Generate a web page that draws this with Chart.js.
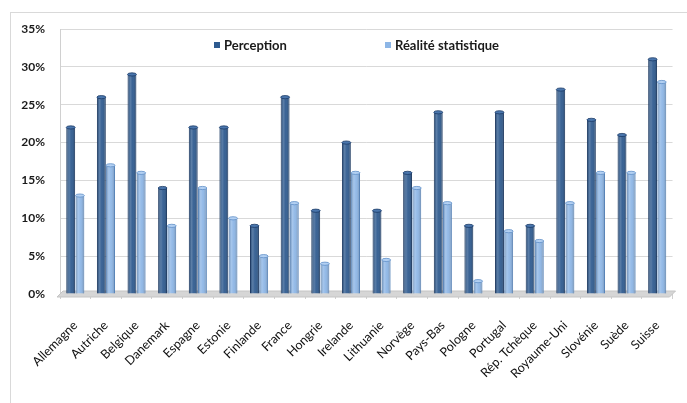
<!DOCTYPE html>
<html>
<head>
<meta charset="utf-8">
<script src="https://cdn.jsdelivr.net/npm/chart.js@4.4.1/dist/chart.umd.min.js"></script>
<style>
  html, body { margin: 0; padding: 0; background: #fff; overflow: hidden; }
  #wrap { position: relative; width: 687px; height: 403px; }
  #frame { position: absolute; left: 10px; top: 12px; width: 720px; height: 420px;
           border-left: 1px solid #d9d9d9; border-top: 1px solid #d9d9d9; }
  canvas { position: absolute; left: 0; top: 0; }
</style>
</head>
<body>
<div id="wrap">
  <div id="frame"></div>
  <canvas id="c" width="687" height="403"></canvas>
</div>
<script>
// Countries on the category axis
const countries = ['Allemagne', 'Autriche', 'Belgique', 'Danemark', 'Espagne', 'Estonie',
  'Finlande', 'France', 'Hongrie', 'Irelande', 'Lithuanie', 'Norvège', 'Pays-Bas',
  'Pologne', 'Portugal', 'Rép. Tchèque', 'Royaume-Uni', 'Slovénie', 'Suède', 'Suisse'];

// Share (%) as perceived vs. statistical reality
const perception = [22, 26, 29, 14, 22, 22, 9, 26, 11, 20, 11, 16, 24, 9, 24, 9, 27, 23, 21, 31];
const realite    = [13, 17, 16, 9, 14, 10, 5, 12, 4, 16, 4.5, 14, 12, 1.7, 8.3, 7, 12, 16, 16, 28];

const seriesNames = ['Perception', 'Réalité statistique'];
const yMax = 35;
const yStep = 5;

const darkFill = '#2e5a8f', darkEdge = '#1b3a66';
const lightFill = '#8db6e6', lightEdge = '#5f8fc8';

// Grey floor under the bars
const floorPlugin = {
  id: 'floor',
  beforeDatasetsDraw(chart) {
    const { left, right, bottom } = chart.chartArea;
    const ctx = chart.ctx;
    ctx.save();
    ctx.beginPath();
    ctx.moveTo(left - 3, bottom + 3);
    ctx.lineTo(right - 3, bottom + 3);
    ctx.lineTo(right + 3, bottom - 3);
    ctx.lineTo(left + 3, bottom - 3);
    ctx.closePath();
    ctx.fillStyle = '#d6d6d6';
    ctx.fill();
    ctx.strokeStyle = '#c4c4c4';
    ctx.lineWidth = 1;
    ctx.stroke();
    ctx.restore();
  }
};

// Rounded shading and top caps to give the bars a cylinder look
const shadePlugin = {
  id: 'shade',
  afterDatasetsDraw(chart) {
    const ctx = chart.ctx;
    chart.data.datasets.forEach((ds, di) => {
      const meta = chart.getDatasetMeta(di);
      meta.data.forEach(bar => {
        const { x, y, base, width } = bar.getProps(['x', 'y', 'base', 'width'], true);
        const l = x - width / 2, r = x + width / 2;
        const g = ctx.createLinearGradient(l, 0, r, 0);
        g.addColorStop(0, 'rgba(0,0,0,0.18)');
        g.addColorStop(0.3, 'rgba(255,255,255,0.22)');
        g.addColorStop(0.55, 'rgba(255,255,255,0.06)');
        g.addColorStop(1, 'rgba(0,0,0,0.22)');
        ctx.save();
        ctx.fillStyle = g;
        ctx.fillRect(l + 0.5, y, width - 1, base - y);
        ctx.beginPath();
        ctx.ellipse(x, y, width / 2, 1.6, 0, 0, Math.PI * 2);
        ctx.fillStyle = di === 0 ? '#4a76ad' : '#b3d0f2';
        ctx.fill();
        ctx.strokeStyle = di === 0 ? darkEdge : lightEdge;
        ctx.lineWidth = 0.8;
        ctx.stroke();
        ctx.restore();
      });
    });
  }
};

// Legend drawn inside the plot, near the top
const legendPlugin = {
  id: 'innerLegend',
  afterDraw(chart) {
    const ctx = chart.ctx;
    const items = [
      { text: seriesNames[0], color: darkFill, sx: 214 },
      { text: seriesNames[1], color: lightFill, sx: 385 }
    ];
    ctx.save();
    ctx.font = 'bold 13px Lato';
    ctx.textBaseline = 'middle';
    items.forEach(it => {
      ctx.fillStyle = it.color;
      ctx.fillRect(it.sx, 42, 6, 6);
      ctx.fillStyle = '#1a1a1a';
      ctx.fillText(it.text, it.sx + 10, 45.5);
    });
    ctx.restore();
  }
};

new Chart(document.getElementById('c'), {
  type: 'bar',
  data: {
    labels: countries,
    datasets: [
      { label: seriesNames[0], data: perception, backgroundColor: darkFill,
        borderColor: darkEdge, borderWidth: 1 },
      { label: seriesNames[1], data: realite, backgroundColor: lightFill,
        borderColor: lightEdge, borderWidth: 1 }
    ]
  },
  options: {
    responsive: false,
    animation: false,
    devicePixelRatio: 1,
    categoryPercentage: 0.6,
    barPercentage: 0.97,
    layout: { padding: { left: 10, top: 29, right: 7, bottom: 0 } },
    plugins: { legend: { display: false }, tooltip: { enabled: false } },
    scales: {
      x: {
        afterFit(scale) { scale.height = 109; },
        grid: { display: true, drawOnChartArea: false, drawTicks: true, tickLength: 5,
                offset: true, color: '#d0d0d0' },
        border: { color: '#d0d0d0' },
        ticks: { minRotation: 45, maxRotation: 45, autoSkip: false, padding: 19,
                 color: '#111', font: { family: 'Lato', size: 12.5 } }
      },
      y: {
        min: 0, max: yMax,
        afterFit(scale) { scale.width = 50; },
        grid: { color: '#d9d9d9', drawTicks: false },
        border: { color: '#d0d0d0' },
        ticks: { stepSize: yStep, padding: 15, color: '#1a1a1a',
                 font: { family: 'Lato', size: 12, weight: 'bold' },
                 callback: v => v + '%' }
      }
    }
  },
  plugins: [floorPlugin, shadePlugin, legendPlugin]
});
</script>
</body>
</html>
